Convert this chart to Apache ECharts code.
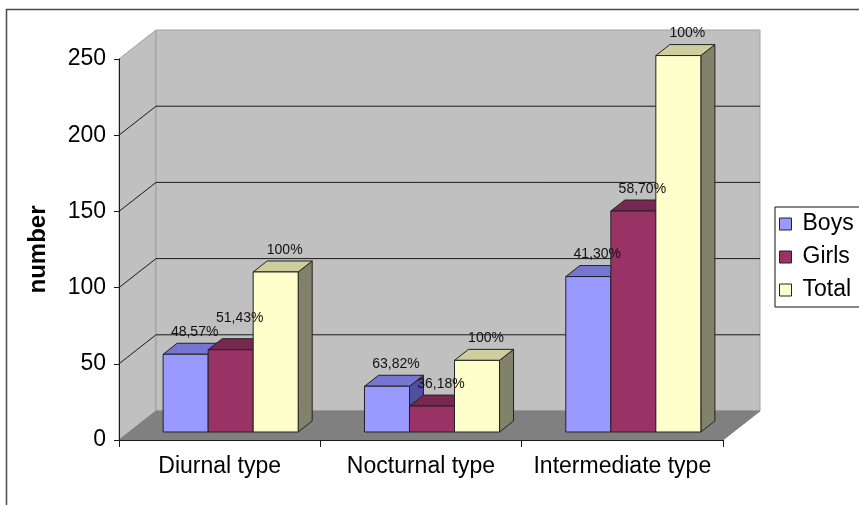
<!DOCTYPE html>
<html>
<head>
<meta charset="utf-8">
<script src="https://cdn.jsdelivr.net/npm/echarts@6/dist/echarts.min.js"></script>
<style>
  html, body { margin: 0; padding: 0; background: #ffffff; }
  #chart { width: 859px; height: 505px; }
</style>
</head>
<body>
<div id="chart"></div>
<script>
// Chronotype counts by sex
const categories = ['Diurnal type', 'Nocturnal type', 'Intermediate type'];
const boys = [51, 30, 102];
const girls = [54, 17, 145];
const total = [105, 47, 247];
const boysPct = ['48,57%', '63,82%', '41,30%'];
const girlsPct = ['51,43%', '36,18%', '58,70%'];
const totalPct = ['100%', '100%', '100%'];
const yTicks = [0, 50, 100, 150, 200, 250];

// Oblique projection used for the pseudo-3D look
const WALL_DX = 37, WALL_DY = -29;   // depth of the floor / back wall
const FRONT_DX = 11, FRONT_DY = -8;  // bar front face set back from the front plane
const BAR_DX = 14, BAR_DY = -11;     // bar depth
const BAR_FRAC = 0.2236;             // bar width as share of a category band
const FONT = '"Liberation Sans", Arial, sans-serif';

const palette = [
  { front: '#9999ff', top: '#7676d2', side: '#4f4f9c' },
  { front: '#993366', top: '#772850', side: '#5a1e3c' },
  { front: '#ffffcc', top: '#cdcd9e', side: '#82826a' }
];

function wallsItem(params, api) {
  const cs = params.coordSys;
  const x0 = cs.x, x1 = cs.x + cs.width;
  const yTop = api.coord([0, yTicks[yTicks.length - 1]])[1];
  const yBase = api.coord([0, yTicks[0]])[1];
  const children = [];
  // left side wall
  children.push({ type: 'polygon', shape: { points: [
    [x0, yTop], [x0 + WALL_DX, yTop + WALL_DY], [x0 + WALL_DX, yBase + WALL_DY], [x0, yBase]
  ] }, style: { fill: '#c0c0c0', stroke: '#a0a0a0', lineWidth: 1 } });
  // back wall
  children.push({ type: 'rect', shape: {
    x: x0 + WALL_DX, y: yTop + WALL_DY, width: x1 - x0, height: yBase - yTop
  }, style: { fill: '#c0c0c0', stroke: '#a0a0a0', lineWidth: 1 } });
  // floor
  children.push({ type: 'polygon', shape: { points: [
    [x0, yBase], [x1, yBase], [x1 + WALL_DX, yBase + WALL_DY], [x0 + WALL_DX, yBase + WALL_DY]
  ] }, style: { fill: '#808080', stroke: '#808080', lineWidth: 1 } });
  // grid lines wrapping side and back walls
  yTicks.slice(1, -1).forEach(function (t) {
    const y = api.coord([0, t])[1];
    children.push({ type: 'polyline', shape: { points: [
      [x0, y], [x0 + WALL_DX, y + WALL_DY], [x1 + WALL_DX, y + WALL_DY]
    ] }, style: { stroke: '#1a1a1a', lineWidth: 1, fill: null } });
  });
  return { type: 'group', children: children };
}

function barRenderer(idx, labels) {
  const c = palette[idx];
  return function (params, api) {
    const cat = api.value(0), v = api.value(1);
    const base = api.coord([cat, 0]);
    const top = api.coord([cat, v]);
    const w = api.size([1, 0])[0] * BAR_FRAC;
    const xl = base[0] + FRONT_DX + (idx - 1.5) * w;
    const xr = xl + w;
    const yb = base[1] + FRONT_DY;
    const yt = top[1] + FRONT_DY;
    const edge = { stroke: '#222222', lineWidth: 1, lineJoin: 'round' };
    const lift = (idx === 1 && cat === 0) ? 32 : 22;
    const z2 = idx * 10;
    return { type: 'group', children: [
      { type: 'polygon', z2: z2, shape: { points: [[xr, yt], [xr + BAR_DX, yt + BAR_DY], [xr + BAR_DX, yb + BAR_DY], [xr, yb]] },
        style: Object.assign({ fill: c.side }, edge) },
      { type: 'polygon', z2: z2 + 1, shape: { points: [[xl, yt], [xr, yt], [xr + BAR_DX, yt + BAR_DY], [xl + BAR_DX, yt + BAR_DY]] },
        style: Object.assign({ fill: c.top }, edge) },
      { type: 'rect', z2: z2 + 2, shape: { x: xl, y: yt, width: w, height: yb - yt },
        style: Object.assign({ fill: c.front }, edge) },
      { type: 'text', z2: 100, x: (xl + xr) / 2 + 9, y: yt - lift,
        style: { text: labels[cat], fill: '#111', font: '14px ' + FONT, align: 'center', verticalAlign: 'middle' } }
    ] };
  };
}

function barSeries(name, idx, values, labels) {
  return {
    name: name, type: 'custom', z: 3,
    itemStyle: { color: palette[idx].front, borderColor: '#222', borderWidth: 1 },
    encode: { x: 0, y: 1 },
    data: values.map(function (v, i) { return [i, v]; }),
    renderItem: barRenderer(idx, labels)
  };
}

const chart = echarts.init(document.getElementById('chart'), null, { renderer: 'canvas' });
chart.setOption({
  backgroundColor: '#ffffff',
  animation: false,
  textStyle: { fontFamily: FONT },
  graphic: [{
    type: 'rect', silent: true, z: -10,
    shape: { x: 6.5, y: 9.5, width: 900, height: 600 },
    style: { fill: null, stroke: '#4a4a4a', lineWidth: 1.5 }
  }],
  grid: { left: 119, right: 136, top: 59, bottom: 65 },
  legend: {
    data: ['Boys', 'Girls', 'Total'],
    orient: 'vertical', left: 775, top: 207,
    icon: 'rect', itemWidth: 12, itemHeight: 12, itemGap: 9,
    borderColor: '#111', borderWidth: 1, padding: [5, 8, 5, 4],
    itemStyle: { borderColor: '#222', borderWidth: 1 },
    textStyle: { fontSize: 23, fontFamily: FONT, color: '#000', padding: [0, 0, 0, 6], lineHeight: 24 }
  },
  xAxis: {
    type: 'category', data: categories, z: 6,
    axisLine: { lineStyle: { color: '#1a1a1a', width: 1 } },
    axisTick: { show: true, length: 7, lineStyle: { color: '#1a1a1a' } },
    axisLabel: { fontSize: 23, color: '#000', margin: 15, fontFamily: FONT, interval: 0, hideOverlap: false },
    splitLine: { show: false }
  },
  yAxis: {
    type: 'value', min: 0, max: 250, interval: 50, z: 6,
    name: 'number', nameLocation: 'middle', nameGap: 69, nameRotate: 90,
    nameTextStyle: { fontSize: 24, fontWeight: 'bold', color: '#000', fontFamily: FONT },
    axisLine: { show: true, lineStyle: { color: '#1a1a1a', width: 1 } },
    axisTick: { show: true, length: 5, lineStyle: { color: '#1a1a1a' } },
    axisLabel: { fontSize: 23, color: '#000', margin: 13, fontFamily: FONT },
    splitLine: { show: false }
  },
  series: [
    { type: 'custom', name: 'walls', z: 1, silent: true, encode: { x: 0, y: 1 },
      data: [[0, 0]], renderItem: wallsItem },
    barSeries('Boys', 0, boys, boysPct),
    barSeries('Girls', 1, girls, girlsPct),
    barSeries('Total', 2, total, totalPct)
  ]
});
</script>
</body>
</html>
